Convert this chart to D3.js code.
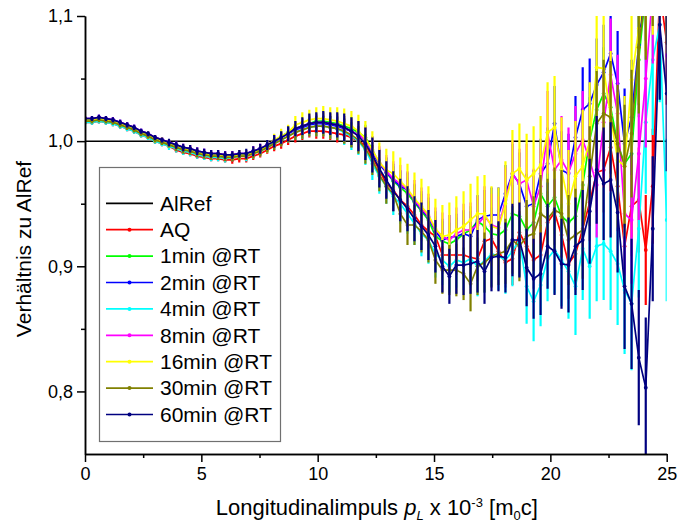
<!DOCTYPE html>
<html>
<head>
<meta charset="utf-8">
<script src="https://cdn.jsdelivr.net/npm/d3@7"></script>
<style>
  body { margin: 0; background: #fff; }
  text { font-family: Arial, "Liberation Sans", sans-serif; }
</style>
</head>
<body>
<svg id="chart" width="679" height="528"></svg>
<script>
// longitudinal momentum grid (x 10^-3 m0c)
var pL = [0, 0.30, 0.60, 0.90, 1.20, 1.51, 1.81, 2.11, 2.41, 2.71,
  3.01, 3.31, 3.61, 3.92, 4.22, 4.52, 4.82, 5.12, 5.42, 5.72,
  6.02, 6.33, 6.63, 6.93, 7.23, 7.53, 7.83, 8.13, 8.43, 8.73,
  9.04, 9.34, 9.64, 9.94, 10.24, 10.54, 10.84, 11.14, 11.45, 11.75,
  12.05, 12.35, 12.65, 12.95, 13.25, 13.55, 13.86, 14.16, 14.46, 14.76,
  15.06, 15.36, 15.66, 15.96, 16.27, 16.57, 16.87, 17.17, 17.47, 17.77,
  18.07, 18.37, 18.67, 18.98, 19.28, 19.58, 19.88, 20.18, 20.48, 20.78,
  21.08, 21.39, 21.69, 21.99, 22.29, 22.59, 22.89, 23.19, 23.49, 23.80,
  24.10, 24.40, 24.70, 25.00];

var labels = ["AlRef", "AQ", "1min @RT", "2min @RT", "4min @RT", "8min @RT", "16min @RT", "30min @RT", "60min @RT"];
var colors = ["#000000", "#ff0000", "#00ff00", "#0000ff", "#00ffff", "#ff00ff", "#ffff00", "#808000", "#000080"];

var refValue = [1.0];

var vAQ = [1.015, 1.015, 1.016, 1.015, 1.014, 1.012, 1.010, 1.008, 1.005, 1.003,
  1.000, 0.998, 0.996, 0.993, 0.991, 0.990, 0.988, 0.987, 0.986, 0.986,
  0.985, 0.985, 0.986, 0.986, 0.988, 0.990, 0.993, 0.996, 0.998, 1.001,
  1.004, 1.006, 1.008, 1.008, 1.008, 1.007, 1.006, 1.005, 1.003, 1.000,
  0.997, 0.987, 0.977, 0.966, 0.961, 0.953, 0.948, 0.941, 0.933, 0.928,
  0.924, 0.909, 0.909, 0.909, 0.909, 0.907, 0.906, 0.920, 0.922, 0.912,
  0.903, 0.906, 0.927, 0.916, 0.905, 0.909, 0.935, 0.943, 0.925, 0.902,
  0.910, 0.930, 0.951, 0.975, 0.977, 0.995, 0.964, 0.916, 0.948, 0.953,
  0.913, 0.964, 1.120, 1.079];
var v1 = [1.017, 1.017, 1.018, 1.017, 1.016, 1.014, 1.012, 1.010, 1.007, 1.005,
  1.002, 1.000, 0.998, 0.996, 0.994, 0.993, 0.991, 0.990, 0.989, 0.989,
  0.988, 0.988, 0.989, 0.989, 0.991, 0.993, 0.996, 0.999, 1.004, 1.007,
  1.010, 1.012, 1.014, 1.016, 1.016, 1.015, 1.014, 1.012, 1.010, 1.007,
  1.003, 0.993, 0.982, 0.975, 0.968, 0.963, 0.958, 0.951, 0.944, 0.937,
  0.924, 0.920, 0.918, 0.921, 0.926, 0.929, 0.936, 0.932, 0.926, 0.925,
  0.929, 0.942, 0.940, 0.929, 0.935, 0.958, 0.948, 0.955, 0.940, 0.935,
  0.940, 0.965, 1.001, 1.025, 1.038, 1.027, 0.998, 0.982, 0.990, 1.065,
  1.120, 1.150, 1.160, 1.140];
var v2 = [1.018, 1.018, 1.019, 1.018, 1.017, 1.015, 1.013, 1.011, 1.008, 1.006,
  1.003, 1.001, 0.999, 0.997, 0.995, 0.994, 0.992, 0.991, 0.990, 0.990,
  0.989, 0.989, 0.990, 0.990, 0.992, 0.994, 0.997, 1.000, 1.003, 1.006,
  1.009, 1.011, 1.013, 1.014, 1.014, 1.013, 1.012, 1.010, 1.008, 1.005,
  1.001, 0.991, 0.982, 0.975, 0.969, 0.964, 0.961, 0.952, 0.945, 0.939,
  0.928, 0.921, 0.923, 0.924, 0.926, 0.924, 0.937, 0.940, 0.941, 0.941,
  0.958, 0.974, 0.966, 0.948, 0.950, 0.974, 0.982, 1.014, 0.977, 0.974,
  1.003, 1.025, 1.030, 1.045, 1.055, 1.070, 1.046, 0.998, 1.019, 1.077,
  1.130, 1.160, 1.170, 1.150];
var v4 = [1.015, 1.015, 1.016, 1.015, 1.014, 1.012, 1.010, 1.008, 1.005, 1.003,
  1.000, 0.998, 0.996, 0.994, 0.992, 0.991, 0.989, 0.988, 0.987, 0.987,
  0.986, 0.987, 0.988, 0.988, 0.990, 0.992, 0.995, 0.998, 1.001, 1.004,
  1.007, 1.009, 1.011, 1.012, 1.012, 1.011, 1.010, 1.007, 1.004, 1.000,
  0.993, 0.982, 0.972, 0.964, 0.956, 0.950, 0.942, 0.934, 0.926, 0.921,
  0.910, 0.905, 0.900, 0.905, 0.903, 0.906, 0.900, 0.904, 0.910, 0.908,
  0.905, 0.912, 0.921, 0.884, 0.872, 0.885, 0.906, 0.913, 0.905, 0.896,
  0.884, 0.914, 0.900, 0.916, 0.918, 0.912, 0.902, 0.881, 0.870, 0.930,
  1.015, 1.065, 1.093, 0.937];
var v8 = [1.018, 1.018, 1.019, 1.018, 1.017, 1.015, 1.013, 1.011, 1.008, 1.006,
  1.003, 1.001, 0.999, 0.997, 0.995, 0.994, 0.992, 0.991, 0.990, 0.990,
  0.989, 0.989, 0.990, 0.990, 0.992, 0.994, 0.997, 1.000, 1.003, 1.006,
  1.010, 1.012, 1.014, 1.015, 1.015, 1.014, 1.013, 1.011, 1.008, 1.005,
  1.001, 0.992, 0.983, 0.976, 0.970, 0.966, 0.961, 0.953, 0.946, 0.940,
  0.929, 0.924, 0.921, 0.926, 0.929, 0.929, 0.933, 0.940, 0.933, 0.931,
  0.953, 0.974, 0.966, 0.969, 0.948, 0.964, 1.007, 0.977, 0.985, 0.975,
  0.990, 1.001, 0.985, 0.965, 1.015, 1.053, 1.022, 0.942, 0.937, 0.990,
  1.050, 1.120, 1.150, 1.130];
var v16 = [1.017, 1.017, 1.018, 1.017, 1.016, 1.014, 1.012, 1.010, 1.007, 1.005,
  1.002, 1.000, 0.998, 0.996, 0.994, 0.993, 0.991, 0.990, 0.989, 0.989,
  0.988, 0.988, 0.989, 0.989, 0.991, 0.993, 0.996, 1.001, 1.004, 1.007,
  1.013, 1.015, 1.017, 1.018, 1.018, 1.017, 1.016, 1.014, 1.012, 1.008,
  1.002, 0.993, 0.983, 0.977, 0.974, 0.968, 0.962, 0.954, 0.948, 0.941,
  0.930, 0.924, 0.925, 0.929, 0.932, 0.937, 0.942, 0.942, 0.932, 0.930,
  0.950, 0.974, 0.978, 0.969, 0.974, 0.981, 1.007, 1.011, 0.977, 0.950,
  0.972, 0.980, 1.000, 1.059, 1.058, 1.020, 0.985, 0.980, 1.049, 1.090,
  1.130, 1.150, 1.160, 1.140];
var v30 = [1.016, 1.016, 1.017, 1.016, 1.015, 1.013, 1.011, 1.009, 1.006, 1.004,
  1.001, 0.999, 0.997, 0.995, 0.993, 0.992, 0.990, 0.989, 0.988, 0.988,
  0.987, 0.987, 0.988, 0.988, 0.990, 0.992, 0.995, 0.998, 1.001, 1.004,
  1.007, 1.009, 1.011, 1.012, 1.012, 1.011, 1.010, 1.008, 1.005, 1.001,
  0.994, 0.985, 0.973, 0.964, 0.958, 0.942, 0.933, 0.933, 0.928, 0.921,
  0.905, 0.897, 0.897, 0.897, 0.894, 0.886, 0.900, 0.903, 0.908, 0.910,
  0.912, 0.921, 0.916, 0.924, 0.926, 0.942, 0.938, 0.945, 0.942, 0.921,
  0.925, 0.929, 0.972, 1.014, 1.022, 1.019, 0.998, 0.980, 1.006, 1.075,
  1.120, 1.150, 1.160, 1.140];
var v60 = [1.018, 1.018, 1.019, 1.018, 1.017, 1.015, 1.013, 1.011, 1.008, 1.006,
  1.003, 1.001, 0.999, 0.997, 0.995, 0.994, 0.992, 0.991, 0.990, 0.990,
  0.989, 0.989, 0.990, 0.990, 0.992, 0.994, 0.997, 1.000, 1.003, 1.006,
  1.010, 1.012, 1.014, 1.015, 1.015, 1.014, 1.013, 1.011, 1.008, 1.004,
  0.998, 0.989, 0.978, 0.969, 0.960, 0.953, 0.946, 0.938, 0.932, 0.925,
  0.916, 0.900, 0.892, 0.901, 0.901, 0.902, 0.904, 0.896, 0.907, 0.908,
  0.907, 0.921, 0.921, 0.899, 0.890, 0.894, 0.916, 0.912, 0.902, 0.901,
  0.916, 0.921, 0.944, 0.977, 0.966, 0.969, 0.943, 0.884, 0.870, 0.827,
  0.803, 0.930, 1.093, 1.038];

// error bar half-lengths
var eAQ = [.002, .002, .002, .002, .002, .002, .002, .002, .002, .002,
  .002, .002, .002, .002, .002, .002, .002, .002, .002, .002,
  .002, .003, .003, .003, .003, .003, .003, .004, .004, .004,
  .005, .005, .005, .006, .006, .006, .007, .007, .008, .008,
  .009, .010, .010, .011, .011, .012, .012, .013, .013, .014,
  .014, .015, .015, .016, .017, .017, .018, .018, .019, .019,
  .020, .021, .021, .022, .023, .024, .025, .026, .027, .028,
  .029, .030, .031, .032, .034, .035, .036, .038, .040, .042,
  .044, .046, .048, .050];
var e1 = [.002, .002, .002, .002, .002, .002, .002, .002, .002, .002,
  .002, .002, .002, .002, .002, .002, .002, .002, .003, .003,
  .003, .003, .003, .003, .003, .003, .004, .004, .004, .005,
  .005, .006, .006, .006, .007, .007, .008, .008, .009, .009,
  .010, .011, .011, .012, .012, .013, .013, .014, .014, .015,
  .016, .016, .017, .018, .018, .019, .020, .020, .021, .021,
  .022, .023, .023, .024, .025, .026, .027, .029, .030, .031,
  .032, .033, .034, .035, .037, .038, .040, .042, .044, .046,
  .048, .050, .053, .055];
var e2 = [.002, .002, .002, .002, .002, .002, .002, .002, .002, .002,
  .002, .002, .002, .002, .002, .002, .003, .003, .003, .003,
  .003, .003, .003, .003, .003, .003, .004, .004, .004, .005,
  .005, .006, .006, .007, .007, .007, .008, .008, .009, .010,
  .010, .011, .012, .012, .013, .013, .014, .014, .015, .016,
  .016, .017, .018, .018, .019, .020, .020, .021, .022, .022,
  .023, .024, .025, .026, .027, .028, .029, .030, .031, .032,
  .033, .034, .036, .037, .038, .040, .042, .044, .046, .048,
  .050, .052, .055, .058];
var e4 = [.002, .002, .002, .002, .002, .002, .002, .002, .002, .002,
  .002, .002, .003, .003, .003, .003, .003, .003, .003, .003,
  .003, .003, .003, .004, .004, .004, .004, .005, .005, .005,
  .006, .007, .007, .008, .008, .009, .009, .010, .011, .011,
  .012, .013, .014, .014, .015, .016, .016, .017, .018, .019,
  .019, .020, .021, .022, .022, .023, .024, .025, .026, .027,
  .027, .028, .029, .030, .032, .033, .034, .035, .037, .038,
  .039, .041, .042, .044, .045, .047, .049, .051, .053, .055,
  .057, .060, .062, .065];
var e8 = [.002, .002, .002, .002, .002, .002, .002, .002, .002, .002,
  .002, .002, .002, .003, .003, .003, .003, .003, .003, .003,
  .003, .003, .003, .003, .004, .004, .004, .005, .005, .005,
  .006, .006, .007, .007, .008, .008, .009, .009, .010, .011,
  .011, .012, .013, .013, .014, .015, .015, .016, .017, .018,
  .018, .019, .020, .021, .021, .022, .023, .024, .025, .025,
  .026, .027, .028, .029, .030, .031, .033, .034, .035, .036,
  .038, .039, .040, .042, .043, .045, .047, .049, .051, .053,
  .055, .058, .060, .063];
var e16 = [.002, .002, .002, .002, .002, .002, .002, .002, .002, .003,
  .003, .003, .003, .003, .003, .003, .003, .003, .003, .003,
  .003, .003, .004, .004, .004, .004, .005, .005, .006, .006,
  .007, .008, .008, .009, .010, .010, .011, .012, .012, .013,
  .014, .015, .016, .017, .018, .019, .020, .021, .022, .023,
  .024, .025, .026, .027, .028, .029, .030, .031, .032, .033,
  .034, .035, .036, .037, .038, .039, .040, .041, .042, .043,
  .044, .045, .047, .048, .050, .052, .054, .056, .058, .060,
  .062, .065, .068, .070];
var e30 = [.002, .002, .002, .002, .002, .002, .002, .002, .002, .002,
  .002, .002, .002, .003, .003, .003, .003, .003, .003, .003,
  .003, .003, .003, .003, .004, .004, .004, .005, .005, .005,
  .006, .007, .007, .008, .008, .009, .009, .010, .010, .011,
  .012, .012, .013, .014, .014, .015, .016, .016, .017, .018,
  .019, .019, .020, .021, .021, .022, .023, .024, .025, .025,
  .026, .027, .028, .029, .030, .031, .032, .034, .035, .036,
  .037, .039, .040, .042, .043, .045, .047, .049, .051, .053,
  .055, .058, .060, .063];
var e60 = [.002, .002, .002, .002, .002, .002, .002, .002, .002, .002,
  .002, .002, .003, .003, .003, .003, .003, .003, .003, .003,
  .003, .003, .003, .004, .004, .004, .004, .005, .005, .006,
  .006, .007, .008, .008, .009, .009, .010, .011, .011, .012,
  .013, .014, .015, .015, .016, .017, .018, .018, .019, .020,
  .021, .021, .022, .023, .024, .024, .025, .026, .027, .028,
  .028, .029, .030, .031, .032, .033, .034, .035, .036, .038,
  .039, .040, .042, .043, .045, .046, .048, .050, .052, .054,
  .056, .058, .060, .062];

var series = [
  {name: labels[1], color: colors[1], v: vAQ, e: eAQ},
  {name: labels[2], color: colors[2], v: v1, e: e1},
  {name: labels[3], color: colors[3], v: v2, e: e2},
  {name: labels[4], color: colors[4], v: v4, e: e4},
  {name: labels[5], color: colors[5], v: v8, e: e8},
  {name: labels[6], color: colors[6], v: v16, e: e16},
  {name: labels[7], color: colors[7], v: v30, e: e30},
  {name: labels[8], color: colors[8], v: v60, e: e60}
];

var margin = {top: 16, right: 12.3, bottom: 74, left: 85};
var width = 679 - margin.left - margin.right,
    height = 528 - margin.top - margin.bottom;

var xScale = d3.scaleLinear().domain([0, 25]).range([0, width]);
var yScale = d3.scaleLinear().domain([0.75, 1.1]).range([height, 0]);

var svg = d3.select("#chart")
  .append("g")
    .attr("transform", "translate(" + margin.left + "," + margin.top + ")");

svg.append("defs").append("clipPath").attr("id", "clip")
  .append("rect").attr("width", width).attr("height", height);

var plot = svg.append("g").attr("clip-path", "url(#clip)");

// AlRef reference line
plot.selectAll(".ref")
  .data(refValue)
  .enter().append("line")
  .attr("class", "ref")
  .attr("x1", 0).attr("x2", width)
  .attr("y1", function(d) { return yScale(d); })
  .attr("y2", function(d) { return yScale(d); })
  .attr("stroke", colors[0]).attr("stroke-width", 1.5);

var line = d3.line();

series.forEach(function(s) {
  var g = plot.append("g");
  g.selectAll(".err")
    .data(pL)
    .enter().append("line")
    .attr("x1", function(d) { return xScale(d); })
    .attr("x2", function(d) { return xScale(d); })
    .attr("y1", function(d, i) { return yScale(s.v[i] - s.e[i]); })
    .attr("y2", function(d, i) { return yScale(s.v[i] + s.e[i]); })
    .attr("stroke", s.color).attr("stroke-width", 2.2);
  g.append("path")
    .attr("d", line(pL.map(function(d, i) { return [xScale(d), yScale(s.v[i])]; })))
    .attr("fill", "none").attr("stroke", s.color).attr("stroke-width", 1.7);
  g.selectAll(".pt")
    .data(pL)
    .enter().append("circle")
    .attr("cx", function(d) { return xScale(d); })
    .attr("cy", function(d, i) { return yScale(s.v[i]); })
    .attr("r", 1.9)
    .attr("fill", s.color);
});

// axes
var xAxis = d3.axisBottom(xScale).tickValues([0, 5, 10, 15, 20, 25]).tickSize(8).tickSizeOuter(0).tickPadding(5);
var xMinor = d3.axisBottom(xScale).tickValues([2.5, 7.5, 12.5, 17.5, 22.5]).tickSize(4).tickSizeOuter(0).tickFormat("");
var fmt = function(d) { return d3.format(".1f")(d).replace(".", ","); };
var yAxis = d3.axisLeft(yScale).tickValues([0.8, 0.9, 1.0, 1.1]).tickSize(8).tickSizeOuter(0).tickPadding(4).tickFormat(fmt);
var yMinor = d3.axisLeft(yScale).tickValues([0.85, 0.95, 1.05]).tickSize(4).tickSizeOuter(0).tickFormat("");

svg.append("g").attr("class", "axis").attr("transform", "translate(0," + height + ")").call(xAxis);
svg.append("g").attr("class", "axis").attr("transform", "translate(0," + height + ")").call(xMinor);
svg.append("g").attr("class", "axis").call(yAxis);
svg.append("g").attr("class", "axis").call(yMinor);

svg.selectAll(".axis path, .axis line").attr("stroke", "#000").attr("stroke-width", 1.5);
svg.selectAll(".axis text").attr("font-size", 18).attr("fill", "#000")
  .style("font-family", "Arial, 'Liberation Sans', sans-serif");

// axis titles
svg.append("text")
  .attr("transform", "translate(" + (31 - margin.left) + "," + (249 - margin.top) + ") rotate(-90)")
  .attr("text-anchor", "middle")
  .attr("font-size", 21)
  .text("Verhältnis zu AlRef");

var xt = svg.append("text")
  .attr("x", width / 2 + 1)
  .attr("y", 515 - margin.top)
  .attr("text-anchor", "middle")
  .attr("font-size", 22);
xt.append("tspan").text("Longitudinalimpuls ");
xt.append("tspan").attr("font-style", "italic").text("p");
xt.append("tspan").attr("font-size", 13).attr("font-style", "italic").attr("dy", 5).text("L");
xt.append("tspan").attr("dy", -5).text(" x 10");
xt.append("tspan").attr("font-size", 13).attr("dy", -8).text("-3");
xt.append("tspan").attr("dy", 8).text(" [m");
xt.append("tspan").attr("font-size", 13).attr("dy", 5).text("0");
xt.append("tspan").attr("dy", -5).text("c]");

// legend
var legend = svg.append("g").attr("transform", "translate(" + (99.5 - margin.left) + "," + (167.5 - margin.top) + ")");
legend.append("rect")
  .attr("width", 181).attr("height", 274)
  .attr("fill", "#fff").attr("stroke", "#707070").attr("stroke-width", 1.2);

var rows = legend.selectAll(".row")
  .data(labels)
  .enter().append("g")
  .attr("transform", function(d, i) { return "translate(0," + (35.8 + i * 26.4) + ")"; });
rows.append("line")
  .attr("x1", 6.5).attr("x2", 53.5)
  .attr("stroke", function(d, i) { return colors[i]; })
  .attr("stroke-width", 1.7);
rows.filter(function(d, i) { return i > 0; }).append("circle")
  .attr("cx", 30).attr("r", 2)
  .attr("fill", function(d) { return colors[labels.indexOf(d)]; });
rows.append("text")
  .attr("x", 60.5).attr("dy", "0.35em")
  .attr("font-size", 21)
  .text(function(d) { return d; });
</script>
</body>
</html>
